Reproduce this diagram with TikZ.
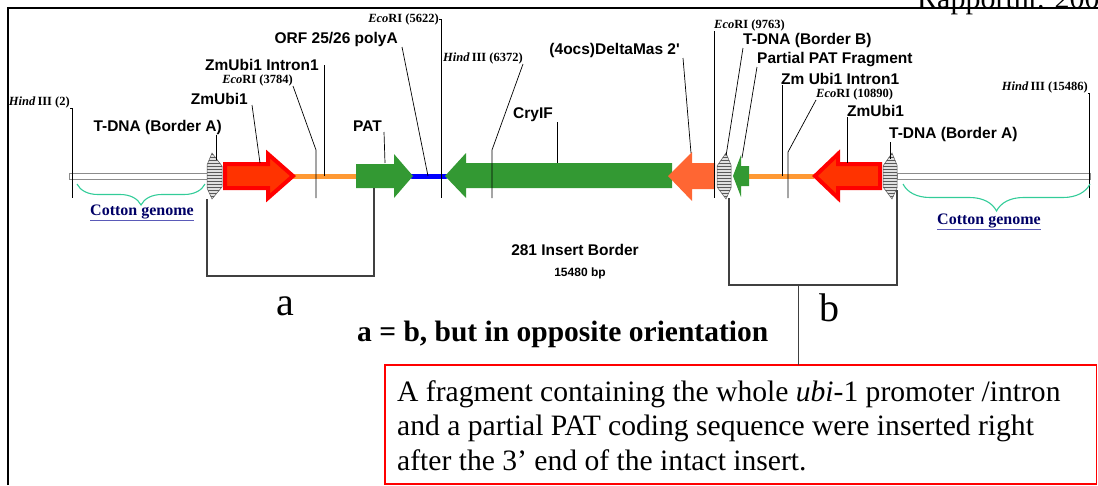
\documentclass[tikz,border=0pt]{standalone}
\usepackage{fontspec}
\setmainfont{Liberation Serif}
\newfontfamily\sansbold{Liberation Sans}
\usetikzlibrary{patterns,decorations.pathreplacing}

\definecolor{ubifill}{HTML}{FF3300}
\definecolor{ubiline}{HTML}{FF0000}
\definecolor{introncol}{HTML}{FF9933}
\definecolor{genecol}{HTML}{339933}
\definecolor{polyacol}{HTML}{0000FF}
\definecolor{masfill}{HTML}{FF6633}
\definecolor{bracecol}{HTML}{33CC99}
\definecolor{cottoncol}{HTML}{000066}
\definecolor{ulcol}{HTML}{5A5AB8}

\begin{document}
\begin{tikzpicture}[x=1pt,y=-1pt,
  lbl/.style={inner sep=0pt, font=\sansbold\bfseries\fontsize{15.5}{15.5}\selectfont},
  site/.style={inner sep=0pt, font=\bfseries\fontsize{12.5}{12.5}\selectfont},
  leader/.style={draw=black, line width=0.7pt},
  bracket/.style={draw=black!75, line width=1.1pt},
  bordershape/.style={draw=black!65, line width=0.5pt, preaction={fill=black!12},
                      pattern=horizontal lines, pattern color=black!65},
  genome/.style={draw=black!45, fill=white, line width=0.6pt},
  gbrace/.style={draw=bracecol, line width=1.1pt, decorate,
                 decoration={brace, mirror, amplitude=#1}},
  ctext/.style={inner sep=0pt, text=cottoncol, font=\bfseries\fontsize{16}{16}\selectfont},
  ubiarrow/.style={fill=ubifill, draw=ubiline, line width=4pt, line join=miter},
  linkline/.style={line width=5pt, line cap=round}]
\useasboundingbox (0,0) rectangle (1098,485);

% page header and frame
\node[anchor=base west, inner sep=0pt, font=\fontsize{30}{30}\selectfont] (hdr) at (917,8) {Rapportnr. 2006};
\draw[line width=2.5pt, line join=miter] (8,485) -- (8,8) -- (1098,8);

% flanking cotton genome
\draw[genome] (69,173) rectangle (208,179);
\draw[genome] (897,173) rectangle (1090,179);

% linker segments
\draw[introncol, linkline, line cap=butt] (293,176) -- (358,176);
\draw[introncol, linkline, line cap=butt] (747,176) -- (814,176);
\draw[polyacol, linkline] (412,176) -- (446,176);

% T-DNA borders
\path[bordershape] (207,165) -- (212,153) -- (222,166) -- (222,187) -- (212,199) -- (207,188) -- cycle;
\path[bordershape] (731,165) -- (726,153) -- (717,166) -- (717,187) -- (726,199) -- (731,188) -- cycle;
\path[bordershape] (897,165) -- (892,153) -- (883,166) -- (883,187) -- (892,199) -- (897,188) -- cycle;

% ZmUbi1 promoters
\draw[ubiarrow] (225,164) -- (268,164) -- (268,154) -- (293,176) -- (268,198) -- (268,188) -- (225,188) -- cycle;
\draw[ubiarrow] (880,164) -- (838,164) -- (838,154) -- (815,176) -- (838,198) -- (838,188) -- (880,188) -- cycle;

% PAT, CryIF, partial PAT
\fill[genecol] (356,164) -- (394,164) -- (394,154) -- (413,176) -- (394,198) -- (394,188) -- (356,188) -- cycle;
\fill[genecol] (445,176) -- (466,153) -- (466,163) -- (672,163) -- (672,188) -- (466,188) -- (466,198) -- cycle;
\fill[genecol] (733,176) -- (741,155) -- (741,166) -- (749,166) -- (749,186) -- (741,186) -- (741,197) -- cycle;

% (4ocs)DeltaMas 2'
\fill[masfill] (668,176) -- (692,152) -- (692,163) -- (715,163) -- (715,189) -- (692,189) -- (692,201) -- cycle;

% leader end points on the map
\coordinate (hA) at (72,198);
\coordinate (tA) at (216,160);
\coordinate (zu) at (260,163);
\coordinate (e1) at (316,198);
\coordinate (zi) at (324,176);
\coordinate (orf) at (428,176);
\coordinate (pat) at (385,163);
\coordinate (e2) at (441,198);
\coordinate (h2) at (492,198);
\coordinate (cry) at (557,163);
\coordinate (dm) at (691,153);
\coordinate (e3) at (714,198);
\coordinate (tb) at (726,156);
\coordinate (pp) at (742,158);
\coordinate (zi2) at (782,176);
\coordinate (e4) at (788,198);
\coordinate (zu2) at (847,163);
\coordinate (ta2) at (890,159);
\coordinate (h3) at (1089,198);

% feature and site labels
\node[site, anchor=south east] (lHa) at (70,108) {\textit{Hind}\,III (2)};
\node[lbl, anchor=south east] (lTA) at (222,135) {T-DNA (Border A)};
\node[lbl, anchor=south east] (lZU) at (248,105) {ZmUbi1};
\node[site, anchor=south east] (lE1) at (293,86) {\textit{Eco}RI (3784)};
\node[lbl, anchor=east] (lZI) at (319,65) {ZmUbi1 Intron1};
\node[lbl, anchor=south east] (lORF) at (398,47) {ORF 25/26 polyA};
\node[lbl, anchor=south east] (lPAT) at (382,132) {PAT};
\node[site, anchor=east] (lE2) at (439,19) {\textit{Eco}RI (5622)};
\node[site, anchor=south east] (lH2) at (523,64) {\textit{Hind}\,III (6372)};
\node[lbl, anchor=south east] (lCry) at (553,122) {CryIF};
\node[lbl, anchor=south east] (lDM) at (680,58) {(4ocs)DeltaMas 2'};
\node[site, anchor=south west] (lE3) at (714,31) {\textit{Eco}RI (9763)};
\node[lbl, anchor=south west] (lTB) at (743,48) {T-DNA (Border B)};
\node[lbl, anchor=south west] (lPP) at (757,67) {Partial PAT Fragment};
\node[lbl, anchor=south west] (lZI2) at (781,85) {Zm Ubi1 Intron1};
\node[site, anchor=south west] (lE4) at (816,100) {\textit{Eco}RI (10890)};
\node[lbl, anchor=south west] (lZU2) at (847,117) {ZmUbi1};
\node[lbl, anchor=south west] (lTA2) at (889,142) {T-DNA (Border A)};
\node[site, anchor=south east] (lH3) at (1088,93) {\textit{Hind}\,III (15486)};

% leader lines
\draw[leader] (lHa.south east) -| (hA);
\draw[leader] ([xshift=-6pt]lTA.south east) -- (tA);
\draw[leader] ([xshift=4pt]lZU.south east) -- (zu);
\draw[leader] (lE1.south east) -- (316,150) -- (e1);
\draw[leader] (lZI.east -| zi) -- (zi);
\draw[leader] ([xshift=4pt]lORF.south east) -- (orf);
\draw[leader] ([xshift=2pt]lPAT.south east) -- (pat);
\draw[leader] (lE2.east) -| (e2);
\draw[leader] (lH2.south east) -- (492,150) -- (h2);
\draw[leader] (lCry.south east -| cry) -- (cry);
\draw[leader] ([xshift=3pt]lDM.south east) -- (dm);
\draw[leader] (lE3.south west) -- (e3);
\draw[leader] (lTB.south west) -- (tb);
\draw[leader] (lPP.south west) -- (pp);
\draw[leader] (lZI2.south west -| zi2) -- (zi2);
\draw[leader] (lE4.south west) -- (788,152) -- (e4);
\draw[leader] (lZU2.south west -| zu2) -- (zu2);
\draw[leader] ([xshift=1pt]lTA2.south west) -- (ta2);
\draw[leader] (lH3.south east) -| (h3);

% cotton genome braces
\draw[gbrace=21pt] (77,184) -- (205,184);
\draw[gbrace=27pt] (903,184) -- (1090,184);
\node[ctext] (cg1) at (142,212) {Cotton genome};
\node[ctext] (cg2) at (989,221) {Cotton genome};
\draw[ulcol, line width=1.3pt] ([yshift=-1.5pt]cg1.south west) -- ([yshift=-1.5pt]cg1.south east);
\draw[ulcol, line width=1.3pt] ([yshift=-1.5pt]cg2.south west) -- ([yshift=-1.5pt]cg2.south east);

% insert caption
\node[lbl] (ins) at (575,250) {281 Insert Border};
\node[inner sep=0pt, font=\sansbold\bfseries\fontsize{12}{12}\selectfont] (bp) at (580,273) {15480 bp};

% repeated fragments a and b
\draw[bracket] (207,199) -- (207,276) -- (374,276) -- (374,188);
\draw[bracket] (729,198) -- (729,285) -- (897,285) -- (897,190);
\node[anchor=base, inner sep=0pt, font=\fontsize{40}{40}\selectfont] (la) at (285,315) {a};
\node[anchor=base, inner sep=0pt, font=\fontsize{40}{40}\selectfont] (lb) at (829,321) {b};
\node[anchor=base west, inner sep=0pt, font=\bfseries\fontsize{29.5}{29.5}\selectfont] (eq) at (357,341) {a = b, but in opposite orientation};

% note box
\draw[ubiline, line width=1.3pt] (385,365) rectangle (1096.5,484);
\coordinate (notetop) at (798,365);
\node[anchor=north west, inner sep=0pt, align=left, font=\fontsize{29.6}{34.5}\selectfont] (notetext) at (397,380)
  {A fragment containing the whole \textit{ubi}-1 promoter /intron\\
   and a partial PAT coding sequence were inserted right\\
   after the 3’ end of the intact insert.};
\draw[bracket, line width=0.8pt] (798,285) -- (notetop);
\end{tikzpicture}
\end{document}
